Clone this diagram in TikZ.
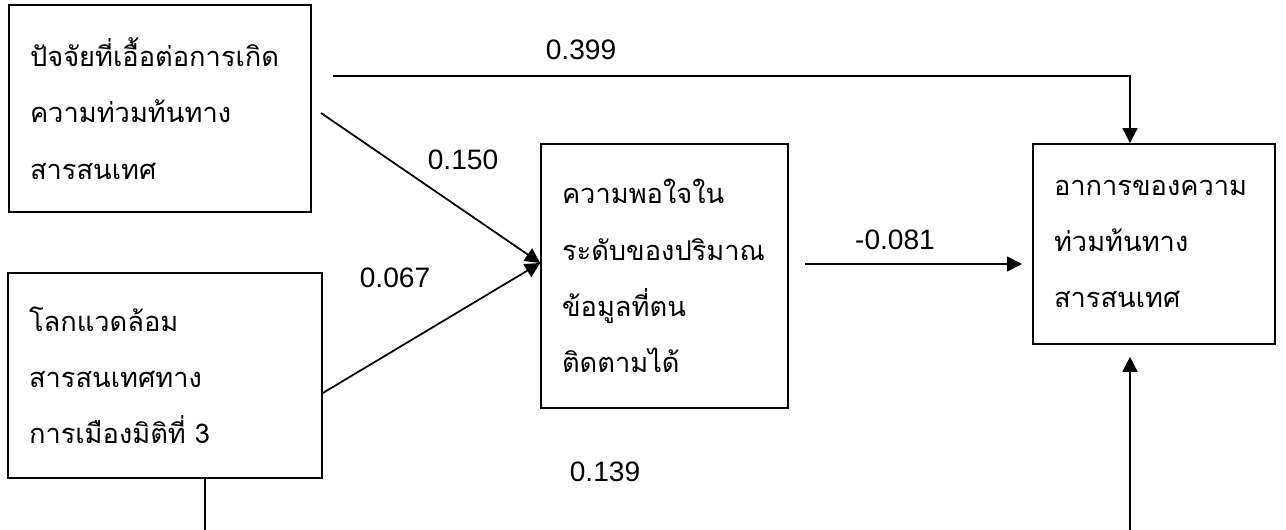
\documentclass[tikz,border=0pt]{standalone}
\usepackage{fontspec}
\setmainfont{Liberation Sans}
\newfontfamily\thaifont[Script=Thai]{Loma}
\usetikzlibrary{calc,positioning,arrows.meta}

\begin{document}
\begin{tikzpicture}[x=0.02cm,y=-0.02cm,
  box/.style={draw,line width=1pt,align=left,inner xsep=0.42cm,font=\thaifont\fontsize{15.5}{32}\selectfont},
  coef/.style={font=\fontsize{16}{18}\selectfont},
  arr/.style={line width=1pt,-{Triangle[length=0.3cm,width=0.3cm]}}]
\useasboundingbox (0,0) rectangle (1286,530);

\node (b1) at (160,108.5) [box,minimum width=6.04cm,minimum height=4.14cm,text width=5.2cm] {ปัจจัยที่เอื้อต่อการเกิด\\ความท่วมท้นทาง\\สารสนเทศ};
\node (b2) at (165,375.5) [box,minimum width=6.28cm,minimum height=4.1cm,text width=5.44cm] {โลกแวดล้อม\\สารสนเทศทาง\\การเมืองมิติที่ 3};
\node (b3) at (664.5,276) [box,minimum width=4.94cm,minimum height=5.28cm,text width=4.1cm] {ความพอใจใน\\ระดับของปริมาณ\\ข้อมูลที่ตน\\ติดตามได้};
\node (b4) at (1154,244) [box,minimum width=4.84cm,minimum height=4cm,text width=4cm] {อาการของความ\\ท่วมท้นทาง\\สารสนเทศ};

% free ends
\coordinate (s1) at (333,76);
\coordinate (s2) at (321,113);
\coordinate (s3) at (805,264);
\coordinate (e3) at (1022,264);
\coordinate (d2) at (205,530);
\coordinate (d4) at (1130,530);
\coordinate (t3) at (b3.west |- 0,263);

\draw[arr] (s1) -| (b4.north -| d4);
\draw[arr] (s2) -- (t3);
\draw[arr] (b2.east |- 0,393) -- (t3);
\draw[arr] (s3) -- (e3);
\draw[line width=1pt] (b2.south -| d2) -- (d2);
\draw[arr,shorten >=0.24cm] (d4) -- (b4.south -| d4);

\node (c1) at (581,50) [coef] {0.399};
\node (c2) at (463,160) [coef] {0.150};
\node (c3) at (395,278) [coef] {0.067};
\node (c4) at (895,240) [coef] {-0.081};
\node (c5) at (605,472) [coef] {0.139};
\end{tikzpicture}
\end{document}
